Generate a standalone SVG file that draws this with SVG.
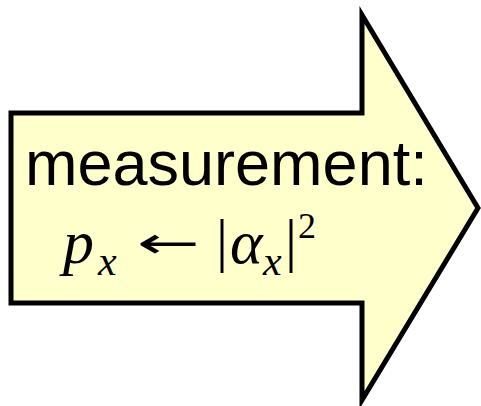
<svg xmlns="http://www.w3.org/2000/svg" width="481" height="406" viewBox="0 0 481 406">
<style>
.arrow{fill:#FFFFCC;stroke:#000;stroke-width:5;stroke-linejoin:miter}
.lbl{font-family:"Liberation Sans",Arial,sans-serif;font-size:63px;fill:#000}
.m{font-family:"Liberation Serif","Times New Roman",serif;fill:#000}
.i{font-style:italic}
</style>
<rect width="481" height="406" fill="#fff"/>
<g id="arrow-node">
<polygon class="arrow" points="11,113 362,113 362,15 478,208 362,400 362,303 11,303"/>
<text class="lbl" x="25" y="185">measurement:</text>
<text class="m i" x="63" y="263" font-size="62">p</text>
<text class="m i" x="98" y="275" font-size="42">x</text>
<text x="137" y="258" font-family="DejaVu Sans,sans-serif" font-size="44" textLength="63" lengthAdjust="spacingAndGlyphs">←</text>
<text class="m" x="216" y="260" font-size="60">|</text>
<text class="m i" x="230" y="263" font-size="62">α</text>
<text class="m i" x="263" y="275" font-size="42">x</text>
<text class="m" x="285" y="260" font-size="60">|</text>
<text class="m" x="298" y="238" font-size="36">2</text>
</g>
</svg>
